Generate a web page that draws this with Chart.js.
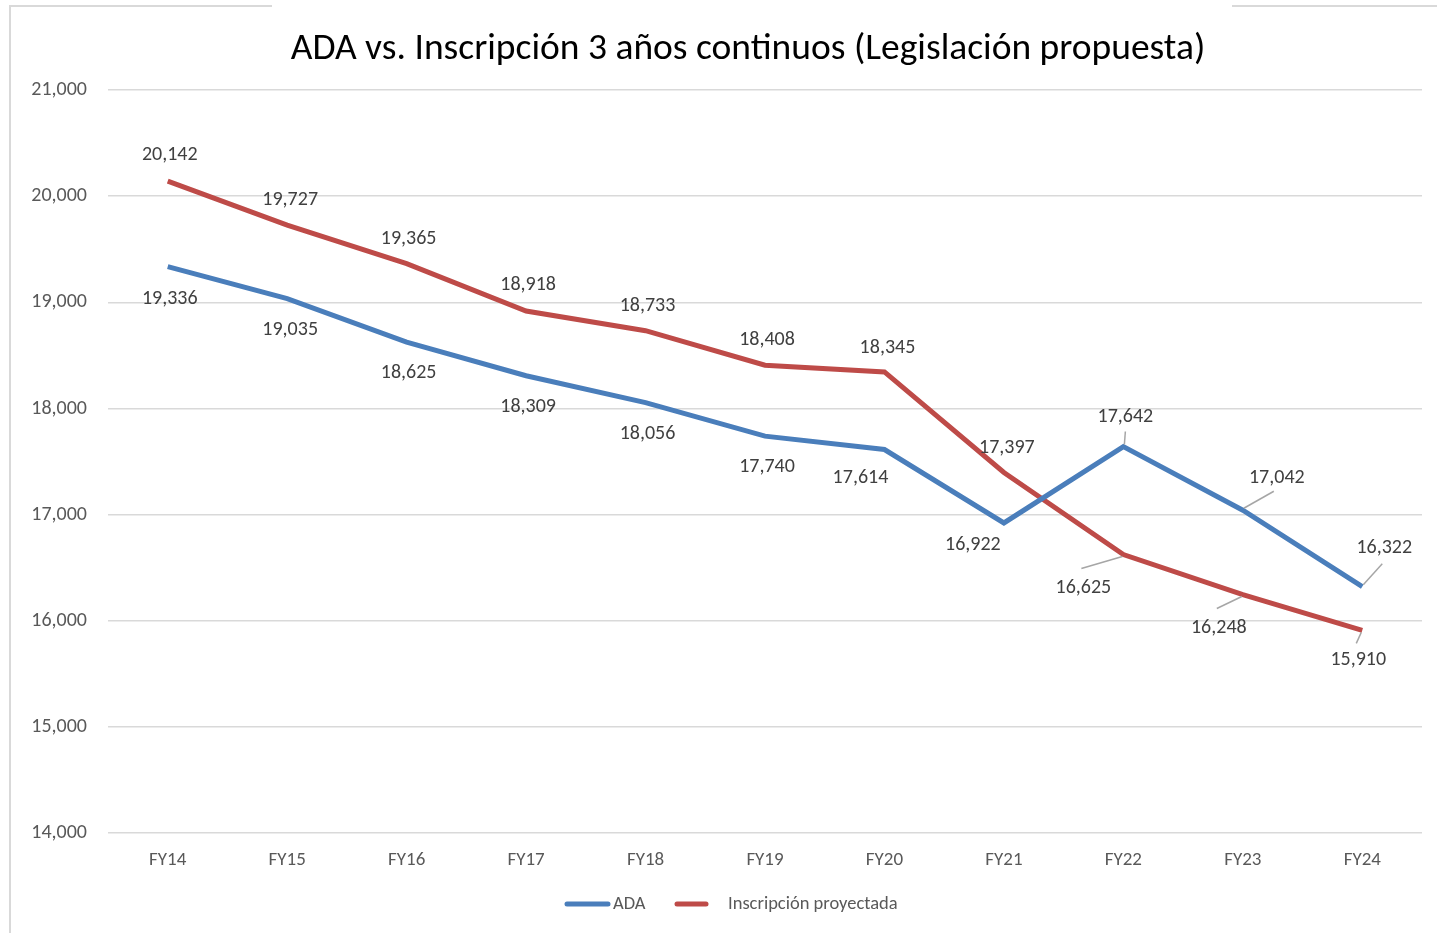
<!DOCTYPE html>
<html>
<head>
<meta charset="utf-8">
<script src="https://cdn.jsdelivr.net/npm/chart.js@4"></script>
<style>
  html, body { margin: 0; padding: 0; background: #fff; }
  #wrap { width: 1437px; height: 933px; }
</style>
</head>
<body>
<div id="wrap"><canvas id="myChart"></canvas></div>
<script>
const years = ['FY14', 'FY15', 'FY16', 'FY17', 'FY18', 'FY19', 'FY20', 'FY21', 'FY22', 'FY23', 'FY24'];
const ada = [19336, 19035, 18625, 18309, 18056, 17740, 17614, 16922, 17642, 17042, 16322];
const inscripcion = [20142, 19727, 19365, 18918, 18733, 18408, 18345, 17397, 16625, 16248, 15910];

// where each value label sits relative to its point, and optional leader line start
const adaLabelPos = [[2,31],[3,30],[2,30],[2,30],[2,30],[2,30],[-24,28],[-31,21],[2,-31],[34,-33],[22,-40]];
const adaLeaders = [null,null,null,null,null,null,null,null,[2,-15],[31,-19],[20,-23]];
const insLabelPos = [[2,-27],[3,-26],[2,-26],[2,-27],[2,-26],[2,-26],[3,-25],[3,-26],[-40,32],[-24,32],[-4,29]];
const insLeaders = [null,null,null,null,null,null,null,null,[-42,14],[-26,14],[-6,13]];

const FONT = "Calibri, Carlito, 'Open Sans', sans-serif";
const fmt = v => v.toLocaleString('en-US');

const frameAndTitle = {
  id: 'frameAndTitle',
  beforeDraw(chart) {
    const c = chart.ctx;
    c.save();
    c.strokeStyle = '#d9d9d9';
    c.lineWidth = 2;
    c.beginPath();
    c.moveTo(10, 933); c.lineTo(10, 6); c.lineTo(272, 6);
    c.moveTo(1232, 6); c.lineTo(1437, 6);
    c.stroke();
    c.fillStyle = '#000';
    c.font = '37.5px ' + FONT;
    c.textAlign = 'center';
    c.textBaseline = 'middle';
    c.fillText('ADA vs. Inscripción 3 años continuos (Legislación propuesta)', 748, 50);
    c.restore();
  }
};

const valueLabels = {
  id: 'valueLabels',
  afterDatasetsDraw(chart) {
    const c = chart.ctx;
    const sets = [[ada, adaLabelPos, adaLeaders], [inscripcion, insLabelPos, insLeaders]];
    c.save();
    c.font = '20px ' + FONT;
    c.fillStyle = '#404040';
    c.textAlign = 'center';
    c.textBaseline = 'middle';
    sets.forEach((s, di) => {
      const pts = chart.getDatasetMeta(di).data;
      s[0].forEach((v, i) => {
        const p = pts[i];
        const off = s[1][i];
        const lead = s[2][i];
        if (lead) {
          c.strokeStyle = '#a6a6a6';
          c.lineWidth = 1.5;
          c.beginPath();
          c.moveTo(p.x + lead[0], p.y + lead[1]);
          c.lineTo(p.x + (lead[0] > 0 ? 1 : lead[0] < 0 ? -1 : 0), p.y + (lead[1] > 0 ? 2 : -2));
          c.stroke();
        }
        c.fillText(fmt(v), p.x + off[0], p.y + off[1] + 1);
      });
    });
    c.restore();
  }
};

// legend drawn by hand so the spacing matches the original
const legendSpots = [[567, 608, 613], [677, 706, 728]];
const bottomLegend = {
  id: 'bottomLegend',
  afterDraw(chart) {
    const c = chart.ctx;
    c.save();
    c.font = '18.5px ' + FONT;
    c.textBaseline = 'middle';
    c.lineCap = 'round';
    chart.data.datasets.forEach((ds, i) => {
      const [x0, x1, tx] = legendSpots[i];
      c.strokeStyle = ds.borderColor;
      c.lineWidth = 5;
      c.beginPath();
      c.moveTo(x0, 904); c.lineTo(x1, 904);
      c.stroke();
      c.fillStyle = '#595959';
      c.fillText(ds.label, tx, 904);
    });
    c.restore();
  }
};

new Chart(document.getElementById('myChart'), {
  type: 'line',
  data: {
    labels: years,
    datasets: [
      {
        label: 'ADA',
        data: ada,
        borderColor: '#4a7ebb',
        backgroundColor: '#4a7ebb',
        borderWidth: 5,
        pointRadius: 0,
        tension: 0
      },
      {
        label: 'Inscripción proyectada',
        data: inscripcion,
        borderColor: '#be4b48',
        backgroundColor: '#be4b48',
        borderWidth: 5,
        pointRadius: 0,
        tension: 0
      }
    ]
  },
  options: {
    responsive: true,
    maintainAspectRatio: false,
    animation: false,
    layout: { padding: { top: 90, right: 15, left: 0, bottom: 53 } },
    scales: {
      x: {
        offset: true,
        grid: { display: false },
        border: { display: false },
        ticks: { color: '#595959', font: { family: FONT, size: 19 }, padding: 8 }
      },
      y: {
        min: 14000,
        max: 21000,
        grid: { color: '#d9d9d9', lineWidth: 1.5, drawTicks: false },
        border: { display: false },
        afterFit(scale) { scale.width = 108; },
        ticks: {
          stepSize: 1000,
          padding: 21,
          color: '#595959',
          font: { family: FONT, size: 20 },
          callback: v => fmt(v)
        }
      }
    },
    plugins: {
      legend: { display: false },
      tooltip: { enabled: false }
    }
  },
  plugins: [frameAndTitle, valueLabels, bottomLegend]
});
</script>
</body>
</html>
